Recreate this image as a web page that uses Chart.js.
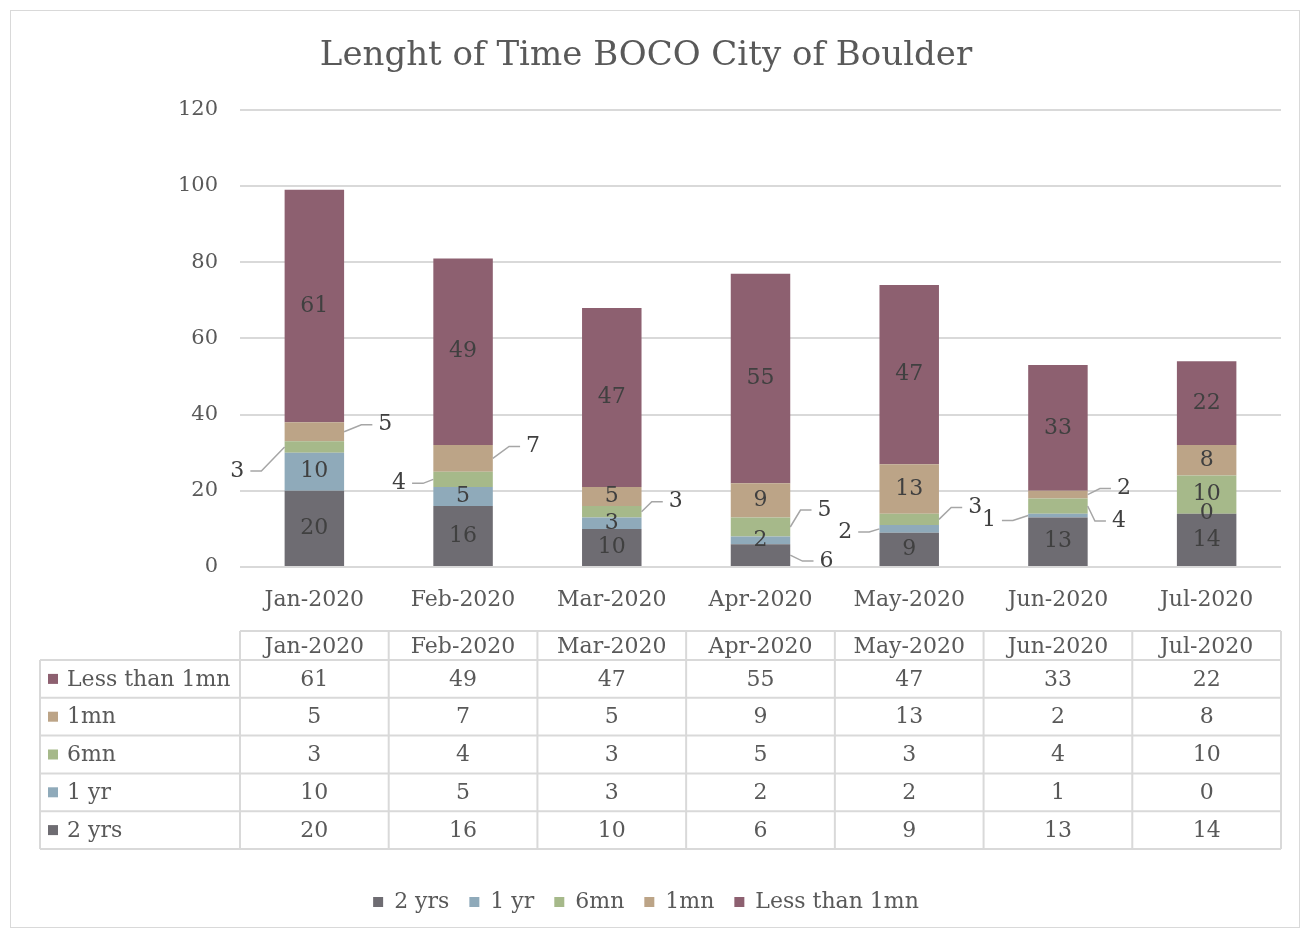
<!DOCTYPE html>
<html>
<head>
<meta charset="utf-8">
<script src="https://cdn.jsdelivr.net/npm/chart.js@4.4.1/dist/chart.umd.min.js"></script>
<style>
  body { margin: 0; background: #fff; }
  #wrap { position: absolute; left: 10px; top: 10px; width: 1290px; height: 918px; border: 1px solid #d9d9d9; box-sizing: border-box; }
</style>
</head>
<body>
<div id="wrap"><canvas id="myChart" width="1288" height="916"></canvas></div>
<script>
// Data //
const categories = ["Jan-2020", "Feb-2020", "Mar-2020", "Apr-2020", "May-2020", "Jun-2020", "Jul-2020"];
const seriesNames = ["2 yrs", "1 yr", "6mn", "1mn", "Less than 1mn"];
const twoYrs = [20, 16, 10, 6, 9, 13, 14];
const oneYr = [10, 5, 3, 2, 2, 1, 0];
const sixMn = [3, 4, 3, 5, 3, 4, 10];
const oneMn = [5, 7, 5, 9, 13, 2, 8];
const lessOneMn = [61, 49, 47, 55, 47, 33, 22];
const yMax = 120;
const yStep = 20;

const colors = ["#6e6c72", "#8faaba", "#a6b98a", "#bca487", "#8d6070"];
const textColor = "#595959";
const gridColor = "#d9d9d9";
const serif = "'DejaVu Serif', serif";
const fontSize = 22;

// labels placed outside the bar with a leader line (offsets from segment centre)
const callouts = [
    { ds: 2, i: 0, dx: -77, dy: 24 },
    { ds: 3, i: 0, dx: 71, dy: -7 },
    { ds: 2, i: 1, dx: -64, dy: 4 },
    { ds: 3, i: 1, dx: 70, dy: -12 },
    { ds: 2, i: 2, dx: 64, dy: -10 },
    { ds: 0, i: 3, dx: 66, dy: 6 },
    { ds: 2, i: 3, dx: 64, dy: -17 },
    { ds: 1, i: 4, dx: -64, dy: 3 },
    { ds: 2, i: 4, dx: 66, dy: -12 },
    { ds: 1, i: 5, dx: -69, dy: 5 },
    { ds: 2, i: 5, dx: 61, dy: 15 },
    { ds: 3, i: 5, dx: 66, dy: -6 }
];

const allSeries = [twoYrs, oneYr, sixMn, oneMn, lessOneMn];

// Data labels plugin
const labelPlugin = {
    id: "segLabels",
    afterDatasetsDraw(chart) {
        const ctx = chart.ctx;
        ctx.save();
        ctx.font = fontSize + "px " + serif;
        ctx.fillStyle = "#404040";
        ctx.textAlign = "center";
        ctx.textBaseline = "middle";
        chart.data.datasets.forEach((ds, d) => {
            const meta = chart.getDatasetMeta(d);
            meta.data.forEach((bar, i) => {
                const cy = (bar.y + bar.base) / 2;
                const c = callouts.find(o => o.ds === d && o.i === i);
                if (c) {
                    const s = Math.sign(c.dx);
                    const lx = bar.x + c.dx;
                    const ly = cy + c.dy;
                    ctx.strokeStyle = "#a6a6a6";
                    ctx.lineWidth = 1.5;
                    ctx.beginPath();
                    ctx.moveTo(bar.x + s * bar.width / 2, cy);
                    ctx.lineTo(lx - s * 24, ly);
                    ctx.lineTo(lx - s * 13, ly);
                    ctx.stroke();
                    ctx.fillText(String(ds.data[i]), lx, ly);
                } else {
                    ctx.fillText(String(ds.data[i]), bar.x, cy);
                }
            });
        });
        ctx.restore();
    }
};

// Data table plugin
const tablePlugin = {
    id: "dataTable",
    afterDraw(chart) {
        const ctx = chart.ctx;
        const area = chart.chartArea;
        const xs = chart.scales.x;
        const n = categories.length;
        const w = (area.right - area.left) / n;
        const top = area.bottom + 64;
        const headH = 29;
        const rowH = 37.8;
        const labelLeft = 29;
        const bottom = top + headH + rowH * seriesNames.length;

        ctx.save();
        ctx.strokeStyle = gridColor;
        ctx.lineWidth = 2;
        ctx.beginPath();
        ctx.moveTo(area.left, top);
        ctx.lineTo(area.right, top);
        for (let r = 0; r <= seriesNames.length; r++) {
            const y = top + headH + r * rowH;
            ctx.moveTo(labelLeft, y);
            ctx.lineTo(area.right, y);
        }
        ctx.moveTo(labelLeft, top + headH);
        ctx.lineTo(labelLeft, bottom);
        for (let i = 0; i <= n; i++) {
            const x = area.left + i * w;
            ctx.moveTo(x, top);
            ctx.lineTo(x, bottom);
        }
        ctx.stroke();

        ctx.font = fontSize + "px " + serif;
        ctx.fillStyle = textColor;
        ctx.textBaseline = "middle";
        ctx.textAlign = "center";
        categories.forEach((c, i) => {
            ctx.fillText(c, xs.getPixelForValue(i), top + headH / 2 + 2);
        });

        for (let r = 0; r < seriesNames.length; r++) {
            const d = seriesNames.length - 1 - r;
            const y = top + headH + r * rowH + rowH / 2 + 1;
            ctx.fillStyle = colors[d];
            ctx.fillRect(labelLeft + 8, y - 6, 10, 10);
            ctx.fillStyle = textColor;
            ctx.textAlign = "left";
            ctx.fillText(seriesNames[d], labelLeft + 27, y);
            ctx.textAlign = "center";
            allSeries[d].forEach((v, i) => {
                ctx.fillText(String(v), xs.getPixelForValue(i), y);
            });
        }
        ctx.restore();
    }
};

const canvas2D = document.getElementById("myChart").getContext("2d");

new Chart(canvas2D, {
    type: "bar",
    data: {
        labels: categories,
        datasets: seriesNames.map((name, d) => ({
            label: name,
            data: allSeries[d],
            backgroundColor: colors[d],
            borderWidth: 0,
            categoryPercentage: 0.4,
            barPercentage: 1.0
        }))
    },
    options: {
        responsive: false,
        animation: false,
        layout: { padding: { left: 0, right: 18, top: 0, bottom: 4 } },
        plugins: {
            title: {
                display: true,
                text: "Lenght of Time BOCO City of Boulder",
                color: textColor,
                font: { family: serif, size: 34, weight: "normal" },
                padding: { top: 25, bottom: 33 }
            },
            legend: {
                position: "bottom",
                labels: {
                    color: textColor,
                    font: { family: serif, size: fontSize },
                    boxWidth: 10,
                    boxHeight: 10,
                    padding: 20
                }
            },
            tooltip: { enabled: false }
        },
        scales: {
            x: {
                stacked: true,
                grid: { display: false },
                border: { display: false },
                ticks: { color: textColor, font: { family: serif, size: fontSize }, padding: 12, maxRotation: 0 },
                afterFit(scale) { scale.height = 304; }
            },
            y: {
                stacked: true,
                min: 0,
                max: yMax,
                grid: { color: gridColor, lineWidth: 2, drawTicks: false },
                border: { display: false },
                ticks: { stepSize: yStep, color: textColor, font: { family: serif, size: 21 }, padding: 22 },
                afterFit(scale) { scale.width = 229; }
            }
        }
    },
    plugins: [labelPlugin, tablePlugin]
});
</script>
</body>
</html>
